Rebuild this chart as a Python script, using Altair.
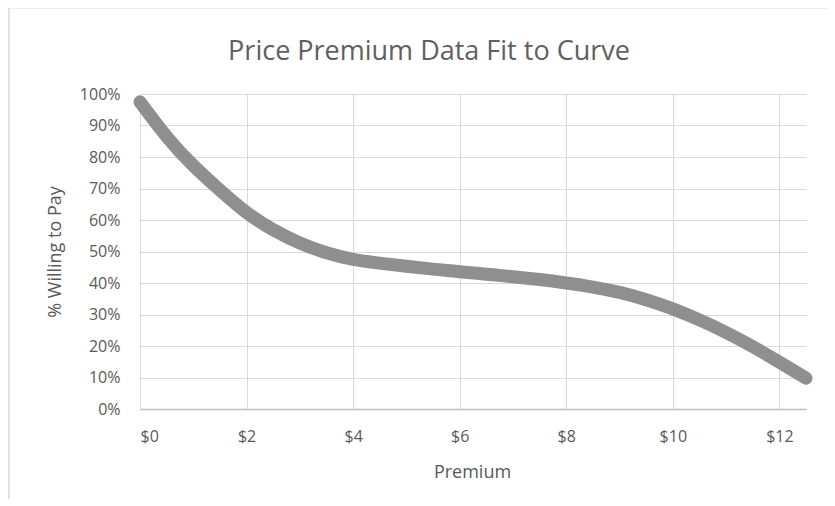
import altair as alt
import pandas as pd

# Data
premium = [0, 0.5, 1, 1.5, 2, 2.5, 3, 3.5, 4, 4.5, 5, 5.5, 6, 6.5, 7, 7.5,
           8, 8.5, 9, 9.5, 10, 10.5, 11, 11.5, 12, 12.5]
willing = [97.5, 86.5, 77.3, 69.5, 62.4, 56.9, 52.7, 49.6, 47.5, 46.3, 45.3,
           44.4, 43.6, 42.8, 42.0, 41.1, 40.0, 38.7, 37.0, 34.7, 31.8, 28.3,
           24.3, 19.8, 14.9, 9.8]
x_ticks = [0, 2, 4, 6, 8, 10, 12]
y_ticks = [0, 0.1, 0.2, 0.3, 0.4, 0.5, 0.6, 0.7, 0.8, 0.9, 1.0]
chart_title = ["Price Premium Data Fit to Curve"]

df = pd.DataFrame({"premium": premium, "willing": [w / 100 for w in willing]})
tdf = pd.DataFrame({"t": chart_title})

FONT = "Open Sans"
TXT = "#595959"
GRID = "#d9d9d9"

W, H = 666, 315

line = alt.Chart(df).mark_line(
    color="#8f8f8f", strokeWidth=13, strokeCap="round", strokeJoin="round",
    interpolate="natural"
).encode(
    x=alt.X("premium:Q",
            scale=alt.Scale(domain=[0, 12.5], nice=False, zero=False),
            axis=alt.Axis(values=x_ticks, labelExpr="'$' + datum.value",
                          title="Premium", grid=True, gridColor=GRID,
                          domainColor="#bfbfbf", domainWidth=1.5, ticks=False,
                          labelFont=FONT, labelFontSize=16, labelColor=TXT,
                          labelBaseline="alphabetic", labelPadding=32,
                          titleFont=FONT, titleFontSize=18, titleColor=TXT,
                          titleFontWeight="normal", titleBaseline="alphabetic",
                          titleX=W / 2 - 1, titleY=68, titleAnchor="middle")),
    y=alt.Y("willing:Q",
            scale=alt.Scale(domain=[0, 1], nice=False),
            axis=alt.Axis(values=y_ticks, format=".0%", title="% Willing to Pay",
                          grid=True, gridColor=GRID, domain=False, ticks=False,
                          labelFont=FONT, labelFontSize=16, labelColor=TXT,
                          labelPadding=20,
                          titleFont=FONT, titleFontSize=18, titleColor=TXT,
                          titleFontWeight="normal", titleBaseline="alphabetic",
                          titleX=-80, titleY=H / 2, titleAnchor="middle")),
)

title = alt.Chart(tdf).mark_text(
    font=FONT, fontSize=27, color="#606060", align="center", baseline="alphabetic"
).encode(text="t:N", x=alt.value(289), y=alt.value(-34))

top_border = alt.Chart(tdf).mark_rule(color="#d9d9d9", strokeWidth=1).encode(
    x=alt.value(-132), x2=alt.value(700), y=alt.value(-86)
)
left_border = alt.Chart(tdf).mark_rule(color="#d9d9d9", strokeWidth=1.5).encode(
    x=alt.value(-131), y=alt.value(-86), y2=alt.value(420)
)

chart = alt.layer(top_border, left_border, title, line).properties(
    width=W, height=H,
    autosize=alt.AutoSizeParams(type="none"),
    padding={"left": 132, "top": 86, "right": 21, "bottom": 90},
).configure_view(stroke=None)

chart.save("out.html", embed_options={"renderer": "svg", "actions": False})
